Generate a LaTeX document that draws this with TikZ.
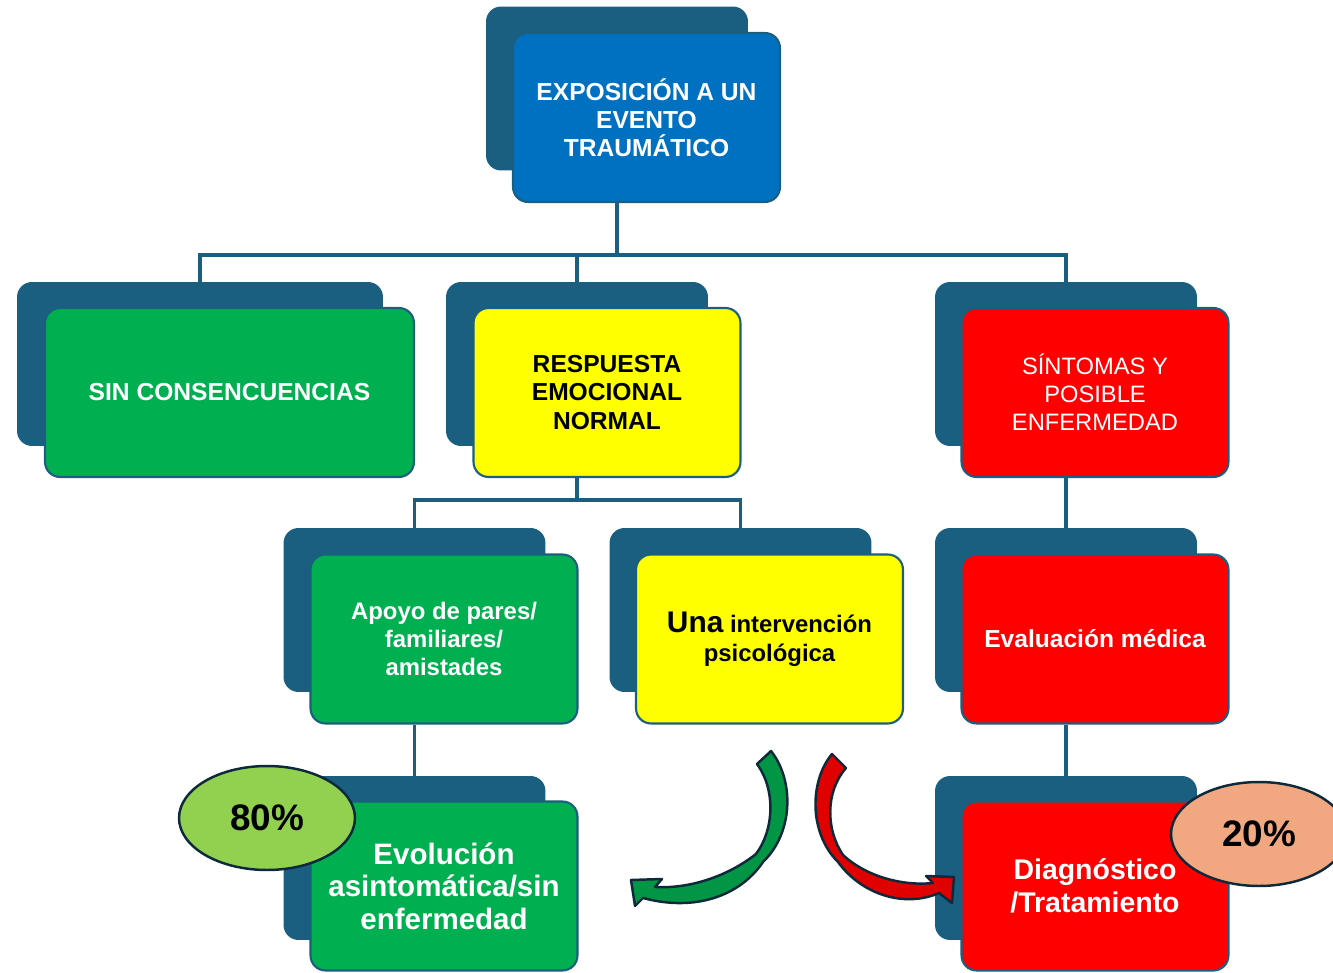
\documentclass[tikz,border=0pt]{standalone}
\usepackage{fontspec}
\setmainfont{Liberation Sans}
\usetikzlibrary{shapes.geometric, positioning}

\definecolor{fondo}{RGB}{26,94,128}
\definecolor{azul}{RGB}{0,112,192}
\definecolor{verde}{RGB}{0,176,80}
\definecolor{amarillo}{RGB}{255,255,0}
\definecolor{rojo}{RGB}{255,0,0}
\definecolor{contorno}{RGB}{14,42,58}
\definecolor{verdeclaro}{RGB}{146,208,80}
\definecolor{salmon}{RGB}{241,168,128}
\definecolor{verdeflecha}{RGB}{0,150,70}
\definecolor{rojoflecha}{RGB}{225,0,0}

\begin{document}
\begin{tikzpicture}[x=0.02cm, y=-0.02cm,
    trasera/.style={fill=fondo, rounded corners=0.3cm, minimum width=5.24cm, minimum height=3.28cm, inner sep=0pt},
    caja/.style={draw=fondo, line width=1.2pt, rounded corners=0.3cm, minimum width=5.34cm, minimum height=3.38cm, align=center, inner sep=2pt, font=\bfseries\fontsize{14}{16}\selectfont},
    linea/.style={draw=fondo, line width=1.8pt},
    porc/.style={ellipse, draw=contorno, line width=1.4pt, minimum width=3.52cm, minimum height=2.08cm, inner sep=0pt, font=\bfseries\fontsize{21}{24}\selectfont},
    flecha/.style={draw=contorno, line width=1.4pt, line join=round}]
    \useasboundingbox (0,0) rectangle (1333,973);

    % Back boxes
    \node[trasera] (btop) at (617,88.5) {};
    \node[trasera, minimum width=7.32cm] (bsin) at (200,364) {};
    \node[trasera] (bresp) at (577,364) {};
    \node[trasera] (bsint) at (1066,364) {};
    \node[trasera] (bapoyo) at (414.5,610) {};
    \node[trasera] (buna) at (740.5,610) {};
    \node[trasera] (beval) at (1066,610) {};
    \node[trasera] (bevol) at (414.5,858) {};
    \node[trasera] (bdiag) at (1066,858) {};

    % Front boxes
    \node[caja, fill=azul, text=white] (top) at (646.5,117.5) {EXPOSICIÓN A UN\\EVENTO\\TRAUMÁTICO};
    \node[caja, fill=verde, text=white, minimum width=7.38cm] (sin) at (229.5,392.5) {SIN CONSENCUENCIAS};
    \node[caja, fill=amarillo, text=black] (resp) at (607,392.5) {RESPUESTA\\EMOCIONAL\\NORMAL};
    \node[caja, fill=rojo, text=white, font=\fontsize{13.5}{16}\selectfont] (sint) at (1095,392.5) {SÍNTOMAS Y\\POSIBLE\\ENFERMEDAD};
    \node[caja, fill=verde, text=white, font=\bfseries\fontsize{13.6}{15.9}\selectfont] (apoyo) at (444,639) {Apoyo de pares/\\familiares/\\amistades};
    \node[caja, fill=amarillo, text=black, font=\bfseries\fontsize{13.6}{16.4}\selectfont] (una) at (769.5,639) {{\fontsize{17}{19}\selectfont Una} intervención\\psicológica};
    \node[caja, fill=rojo, text=white] (eval) at (1095,639) {Evaluación médica};
    \node[caja, fill=verde, text=white, font=\bfseries\fontsize{16.8}{18.4}\selectfont] (evol) at (444,886) {Evolución\\asintomática/sin\\enfermedad};
    \node[caja, fill=rojo, text=white, font=\bfseries\fontsize{16.2}{18.8}\selectfont] (diag) at (1095,886) {Diagnóstico\\/Tratamiento};

    % Connectors
    \coordinate (bus1) at (617,255);
    \coordinate (bus2) at (577,500);
    \draw[linea] (btop.south |- top.south) -- (bus1);
    \draw[linea] (bus1) -| (bsin.north);
    \draw[linea] (bus1) -| (bresp.north);
    \draw[linea] (bus1) -| (bsint.north);
    \draw[linea] (bresp.south |- resp.south) -- (bus2);
    \draw[linea] (bus2) -| (bapoyo.north);
    \draw[linea] (bus2) -| (buna.north);
    \draw[linea] (bsint.south |- sint.south) -- (beval.north);
    \draw[linea] (bapoyo.south |- apoyo.south) -- (bevol.north);
    \draw[linea] (beval.south |- eval.south) -- (bdiag.north);

    % Curved arrows
    \draw[flecha, fill=verdeflecha] (771,751) .. controls (794,780) and (794,832) .. (763,862)
        .. controls (740,896) and (695,912) .. (643,898) -- (635,906) -- (631,880) -- (662,879) -- (655,887)
        .. controls (690,889) and (728,876) .. (756,854)
        .. controls (774,830) and (776,790) .. (757,764) -- cycle;
    \draw[flecha, fill=rojoflecha] (832,754) .. controls (810,780) and (808,832) .. (838,862)
        .. controls (862,895) and (905,908) .. (939,893) -- (952,903) -- (954,877) -- (926,876) -- (933,883)
        .. controls (905,886) and (868,878) .. (843,855)
        .. controls (826,830) and (825,792) .. (846,768) -- cycle;

    % Percentages
    \node[porc, fill=verdeclaro] (p80) at (267,818) {80\%};
    \node[porc, fill=salmon] (p20) at (1259,834) {20\%};
\end{tikzpicture}
\end{document}
